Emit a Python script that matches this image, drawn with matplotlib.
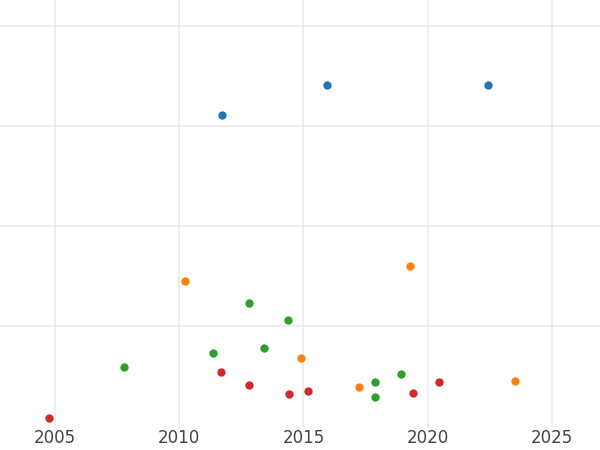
import matplotlib
matplotlib.use('Agg')
import matplotlib.pyplot as plt

blue_x = [2011.72, 2015.95, 2022.42]
blue_y = [3.11, 3.41, 3.41]
orange_x = [2010.23, 2019.29, 2014.90, 2017.23, 2023.51]
orange_y = [1.45, 1.60, 0.68, 0.39, 0.45]
green_x = [2012.81, 2014.38, 2011.36, 2013.41, 2007.78, 2017.88, 2018.92, 2017.88]
green_y = [1.23, 1.06, 0.73, 0.78, 0.59, 0.44, 0.52, 0.29]
red_x = [2004.76, 2011.68, 2012.81, 2014.42, 2015.18, 2019.41, 2020.45]
red_y = [0.08, 0.54, 0.41, 0.32, 0.35, 0.33, 0.44]
xticks = [2005, 2010, 2015, 2020, 2025]

fig = plt.figure(figsize=(6, 4.5), dpi=100)
ax = fig.add_axes([0, 0.049, 1, 0.951])
for xs, ys, c in [(blue_x, blue_y, '#1f77b4'), (orange_x, orange_y, '#ff7f0e'),
                  (green_x, green_y, '#2ca02c'), (red_x, red_y, '#d62728')]:
    ax.scatter(xs, ys, s=36, color=c, zorder=3, linewidths=0)

ax.set_xlim(2002.79, 2026.93)
ax.set_ylim(-0.02, 4.26)
ax.set_xticks(xticks)
ax.set_yticks([1, 2, 3, 4])
ax.set_yticklabels([])
ax.grid(True, color='#ebebeb', lw=1.2)
ax.tick_params(length=0, labelsize=12, labelcolor='#444444', pad=1)
for s in ax.spines.values():
    s.set_visible(False)
fig.savefig('out.png')
